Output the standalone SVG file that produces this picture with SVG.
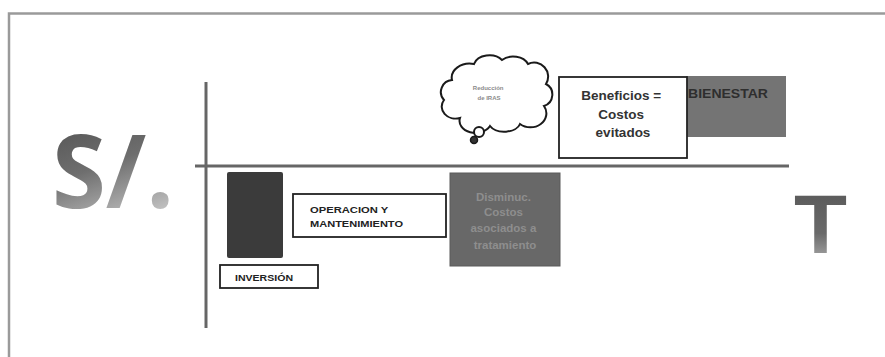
<svg xmlns="http://www.w3.org/2000/svg" width="885" height="357" viewBox="0 0 885 357">
  <defs>
    <linearGradient id="gS" x1="0" y1="0" x2="0.3" y2="1">
      <stop offset="0" stop-color="#4a4a4a"/>
      <stop offset="0.55" stop-color="#6e6e6e"/>
      <stop offset="1" stop-color="#c4c4c4"/>
    </linearGradient>
    <linearGradient id="gT" x1="0" y1="0" x2="0" y2="1">
      <stop offset="0" stop-color="#555"/>
      <stop offset="0.6" stop-color="#6a6a6a"/>
      <stop offset="1" stop-color="#bdbdbd"/>
    </linearGradient>
  </defs>
  <style>
    .lbl { font-family: "Liberation Sans", Arial, sans-serif; font-weight: bold; }
    .big { font-family: "Open Sans", "Liberation Sans", sans-serif; font-weight: bold; }
    .wbox { fill: #ffffff; stroke: #222; stroke-width: 1.8; }
    .axis { stroke: #666; stroke-width: 3; fill: none; }
  </style>
  <rect width="885" height="357" fill="#ffffff"/>
  <path d="M9 357 V13.5 H885" fill="none" stroke="#9a9a9a" stroke-width="2.5"/>

  <g id="currency">
    <text x="52" y="208" class="big" font-size="102" fill="url(#gS)" textLength="122" lengthAdjust="spacingAndGlyphs">S/.</text>
  </g>
  <g id="time">
    <text x="794" y="253" class="lbl" font-size="84" fill="url(#gT)" textLength="53" lengthAdjust="spacingAndGlyphs">T</text>
  </g>

  <g id="connectors">
    <line class="axis" x1="206" y1="82" x2="206" y2="328"/>
    <line class="axis" x1="195" y1="166" x2="789" y2="166"/>
  </g>

  <g id="bienestar">
    <rect x="686" y="76" width="100" height="61" fill="#747474"/>
    <text x="688" y="98" class="lbl" font-size="13" fill="#2e2e2e" textLength="80" lengthAdjust="spacingAndGlyphs">BIENESTAR</text>
  </g>

  <g id="beneficios">
    <rect class="wbox" x="559" y="77" width="128" height="81" stroke-width="2.5"/>
    <text class="lbl" font-size="13.5" fill="#333" text-anchor="middle">
      <tspan x="623" y="100">Beneficios =</tspan>
      <tspan x="623" y="119">Costos</tspan>
      <tspan x="623" y="137">evitados</tspan>
    </text>
  </g>

  <g id="cloud">
    <path d="M452 80 a18 14 0 0 1 22 -16 a16 12 0 0 1 28 -4 a16 12 0 0 1 26 4 a14 14 0 0 1 18 20 a12 12 0 0 1 -2 22 a16 14 0 0 1 -24 18 a16 10 0 0 1 -30 2 a16 12 0 0 1 -30 -8 a14 12 0 0 1 -16 -18 a12 12 0 0 1 8 -20 Z" fill="#ffffff" stroke="#1a1a1a" stroke-width="2"/>
    <circle cx="479" cy="132" r="5" fill="#ffffff" stroke="#1a1a1a" stroke-width="2"/>
    <circle cx="474" cy="140" r="3.5" fill="#333" stroke="#1a1a1a" stroke-width="1.5"/>
    <text class="lbl" font-size="6" fill="#8a8a8a" text-anchor="middle">
      <tspan x="489" y="90">Reducción</tspan>
      <tspan x="489" y="100">de IRAS</tspan>
    </text>
  </g>

  <g id="inversion-bar">
    <rect x="227" y="172" width="56" height="86" rx="2" fill="#3b3b3b"/>
  </g>

  <g id="inversion">
    <rect class="wbox" x="220" y="265" width="98" height="23" stroke-width="1.5"/>
    <text x="235" y="281" class="lbl" font-size="8.5" fill="#222" textLength="58" lengthAdjust="spacingAndGlyphs">INVERSIÓN</text>
  </g>

  <g id="operacion">
    <rect class="wbox" x="293" y="194" width="153" height="43" stroke-width="1.8"/>
    <text class="lbl" font-size="9" fill="#222">
      <tspan x="310" y="213" textLength="78" lengthAdjust="spacingAndGlyphs">OPERACION  Y</tspan>
      <tspan x="310" y="227" textLength="93" lengthAdjust="spacingAndGlyphs">MANTENIMIENTO</tspan>
    </text>
  </g>

  <g id="disminuc">
    <rect x="450" y="173" width="110" height="93" fill="#686868" stroke="#5a5a5a" stroke-width="1"/>
    <text class="lbl" font-size="11.5" fill="#8e8e8e" text-anchor="middle">
      <tspan x="505" y="201">Disminuc.</tspan>
      <tspan x="505" y="216">Costos</tspan>
      <tspan x="505" y="232">asociados a</tspan>
      <tspan x="505" y="249">tratamiento</tspan>
    </text>
  </g>
</svg>
